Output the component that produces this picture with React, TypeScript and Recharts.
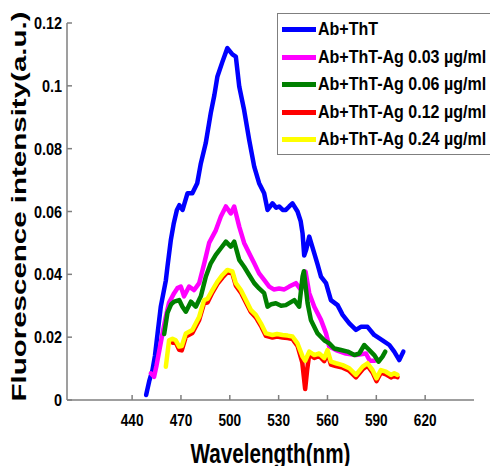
import React from 'react';
import { LineChart, Line, XAxis, YAxis, Legend, Label } from 'recharts';

// [wavelength nm, intensity a.u.]
const abTht: [number, number][] = [
  [448.6, 0.0016], [450.5, 0.006], [452.5, 0.0095], [454, 0.014], [455.6, 0.021],
  [457.6, 0.0297], [460.7, 0.038], [461.7, 0.0424], [463.8, 0.051], [465.5, 0.056], [467.5, 0.0605],
  [469, 0.062], [471, 0.0605], [474, 0.0658], [477, 0.0658], [480, 0.069],
  [482.2, 0.0753], [485.2, 0.0817], [488.3, 0.0913], [490.5, 0.097], [492.4, 0.103],
  [495.5, 0.1077], [498.5, 0.112], [501.6, 0.11], [503.7, 0.1093], [505.8, 0.0998],
  [508.8, 0.0923], [511.9, 0.0828], [515, 0.0743], [518, 0.069], [521.1, 0.0658],
  [523.2, 0.0605], [526.2, 0.0626], [528.5, 0.0612], [530.3, 0.0616], [532.5, 0.0605],
  [534.4, 0.0605], [536.5, 0.0616], [538.5, 0.0626], [541.6, 0.06], [543.5, 0.057],
  [544.7, 0.053], [545.7, 0.046], [547, 0.048], [548.8, 0.052], [551.9, 0.0467],
  [554, 0.043], [556, 0.0393], [559.1, 0.0372], [562.1, 0.0318], [566.2, 0.0302],
  [569.3, 0.0271], [573.4, 0.0244], [577.5, 0.0223], [580.5, 0.0233], [584.6, 0.0233],
  [588.7, 0.0207], [593.8, 0.019], [598, 0.0175], [601, 0.0154], [604.1, 0.0127],
  [606.6, 0.0154],
];

const ag003: [number, number][] = [
  [451.5, 0.0085], [453.5, 0.0074], [455, 0.011], [458.6, 0.021], [460.7, 0.0265],
  [462.7, 0.031], [465.8, 0.034], [467.8, 0.0356], [469.9, 0.0361], [471.9, 0.033], [475, 0.0361],
  [478.1, 0.035], [481.2, 0.0372], [484.3, 0.0435], [487.3, 0.05], [491.4, 0.054],
  [494.5, 0.0584], [497.6, 0.0616], [500.6, 0.0594], [502.7, 0.0616], [505.8, 0.0552],
  [508.8, 0.05], [511.9, 0.0467], [515, 0.0435], [518, 0.0403], [521.1, 0.0382],
  [524.2, 0.0361], [527, 0.0352], [530.3, 0.0355], [533.5, 0.0352], [536.5, 0.0361],
  [540.6, 0.0372], [543.7, 0.035], [545.7, 0.0403], [546.5, 0.0409], [548.8, 0.034],
  [551.9, 0.0297], [556, 0.0255], [559.1, 0.0212], [561.1, 0.017], [565.2, 0.0159],
  [571.3, 0.0148], [577.5, 0.0143], [583.6, 0.0148], [586, 0.0125], [589, 0.0125],
];

const ag006: [number, number][] = [
  [459.7, 0.021], [461.7, 0.0277], [464, 0.0305], [465.8, 0.0313], [468.9, 0.0318], [470.9, 0.0297],
  [473, 0.0281], [476.1, 0.0313], [479.1, 0.0297], [482.2, 0.033], [485.3, 0.0393],
  [488.3, 0.0435], [491.4, 0.0462], [494.5, 0.0483], [497.6, 0.0504], [500.6, 0.0488],
  [502.7, 0.0504], [505.8, 0.0446], [508.8, 0.0424], [511.9, 0.0398], [515, 0.0372],
  [518, 0.0355], [521.1, 0.034], [523.2, 0.0297], [525.5, 0.0305], [528.3, 0.0308],
  [531.5, 0.03], [534.4, 0.0302], [537, 0.031], [539.6, 0.0318], [542.6, 0.0297],
  [544.7, 0.0393], [545.5, 0.041], [547.8, 0.0308], [549.8, 0.0255], [553.9, 0.0212],
  [558, 0.019], [561.1, 0.018], [564.2, 0.0164], [568.3, 0.0159], [572.4, 0.0154],
  [576.5, 0.0143], [579.5, 0.0148], [582.6, 0.0175], [585.7, 0.0159], [588.7, 0.0143],
  [591.4, 0.0122], [593.8, 0.0138], [595.5, 0.0154],
];

const ag012: [number, number][] = [
  [465, 0.0182], [466.8, 0.0183], [468.9, 0.016], [470.5, 0.0158], [473, 0.0202],
  [477, 0.0213], [481.2, 0.0255], [484.2, 0.0308], [486.3, 0.031],
  [489.3, 0.0342], [492.4, 0.037], [495.5, 0.039], [498.5, 0.0407], [501.6, 0.0402],
  [503.7, 0.0364], [506.8, 0.0342], [509.9, 0.031], [512.9, 0.028], [516, 0.0263],
  [519.1, 0.0236], [522.2, 0.0204], [526.2, 0.0199], [529, 0.0202], [532.4, 0.0199],
  [535.5, 0.0197], [538.5, 0.0194], [541.6, 0.0172], [544.5, 0.012], [546.3, 0.0035],
  [547.6, 0.01], [548.8, 0.0146], [551.9, 0.0134], [554.9, 0.014], [558, 0.0124],
  [560, 0.015], [562.1, 0.0113], [565.2, 0.0108], [569.3, 0.0103], [573.4, 0.0093],
  [577.5, 0.0072], [581.6, 0.0098], [584.6, 0.0109], [587.7, 0.0087], [590.1, 0.006],
  [592.8, 0.0087], [595.9, 0.0082], [599, 0.0072], [601, 0.0077], [603, 0.0073],
];

const ag024: [number, number][] = [
  [460.7, 0.0106], [462.7, 0.019], [464.8, 0.0195], [466.8, 0.019], [468.9, 0.017],
  [470.5, 0.0172], [473, 0.0212], [477, 0.0223], [481.2, 0.0265], [484.2, 0.0318],
  [486.3, 0.0322], [489.3, 0.035], [492.4, 0.0377], [495.5, 0.0398], [498.5, 0.0414],
  [501.6, 0.0409], [503.7, 0.0372], [506.8, 0.035], [509.9, 0.0318], [512.9, 0.0287],
  [516, 0.0271], [519.1, 0.0244], [522.2, 0.0212], [526.2, 0.0207], [529, 0.021],
  [532.4, 0.0207], [535.5, 0.0205], [538.5, 0.0202], [541.6, 0.018], [544.7, 0.0138],
  [546.3, 0.0125], [548.8, 0.0154], [551.9, 0.0143], [554.9, 0.0148], [558, 0.0133],
  [560, 0.0159], [562.1, 0.0122], [565.2, 0.0117], [569.3, 0.0111], [573.4, 0.0101],
  [577.5, 0.008], [581.6, 0.0106], [584.6, 0.0117], [587.7, 0.0095], [590.1, 0.0069],
  [592.8, 0.0095], [595.9, 0.009], [599, 0.008], [601, 0.0085], [603, 0.008],
];

const xTicks = [440, 470, 500, 530, 560, 590, 620];
const yTicks = [0, 0.02, 0.04, 0.06, 0.08, 0.1, 0.12];

const series = [
  { name: 'Ab+ThT', color: '#0000ff', points: abTht },
  { name: 'Ab+ThT-Ag 0.03 µg/ml', color: '#ff00ff', points: ag003 },
  { name: 'Ab+ThT-Ag 0.06 µg/ml', color: '#008000', points: ag006 },
  { name: 'Ab+ThT-Ag 0.12 µg/ml', color: '#ff0000', points: ag012 },
  { name: 'Ab+ThT-Ag 0.24 µg/ml', color: '#ffff00', points: ag024 },
];

const sans = "'Liberation Sans', Arial, sans-serif";
const axisGray = '#7f7f7f';

// tick text squeezed horizontally, like the condensed font of the original
const SqueezedTick = (props: any) => {
  const { x, y, payload, textAnchor, fontSize, vertical } = props;
  return (
    <g transform={`translate(${x},${y})`}>
      <text
        transform="scale(0.85,1)"
        textAnchor={textAnchor}
        dy={vertical ? '0.36em' : '0.71em'}
        fontSize={fontSize}
        fontWeight="bold"
        fontFamily={sans}
        fill="#000"
      >
        {payload.value}
      </text>
    </g>
  );
};

const LegendBox = (props: any) => {
  const items = props.payload || [];
  return (
    <div
      style={{
        border: `1.5px solid ${axisGray}`,
        background: '#fff',
        padding: '2px 0 0 3.5px',
        width: 230,
        fontFamily: sans,
        fontWeight: 'bold',
        fontSize: 18,
        color: '#000',
      }}
    >
      {items.map((item: any) => (
        <div key={item.value} style={{ display: 'flex', alignItems: 'center', height: 27.5 }}>
          <span style={{ width: 34, height: 5, background: item.color, marginRight: 2, flex: 'none' }} />
          <span
            style={{
              whiteSpace: 'nowrap',
              display: 'inline-block',
              transform: 'scaleX(0.89)',
              transformOrigin: 'left center',
            }}
          >
            {item.value}
          </span>
        </div>
      ))}
    </div>
  );
};

export default function App() {
  return (
    <div
      style={{
        position: 'absolute',
        left: 0,
        top: 0,
        width: 490,
        height: 466,
        overflow: 'hidden',
        background: '#fff',
      }}
    >
      <LineChart width={490} height={466} margin={{ top: 23, right: 16, bottom: 0, left: 0 }}>
        <XAxis
          dataKey="nm"
          type="number"
          domain={[400, 650]}
          ticks={xTicks}
          height={66}
          stroke={axisGray}
          strokeWidth={1.5}
          tickSize={-5}
          tickMargin={20}
          tick={<SqueezedTick fontSize={16} />}
        >
          <Label
            content={(p: any) => (
              <text
                x={p.viewBox.x + p.viewBox.width / 2}
                y={463}
                textAnchor="middle"
                fontSize={28}
                fontWeight="bold"
                fontFamily={sans}
                textLength={160}
                lengthAdjust="spacingAndGlyphs"
                fill="#000"
              >
                Wavelength(nm)
              </text>
            )}
          />
        </XAxis>
        <YAxis
          type="number"
          domain={[0, 0.12]}
          ticks={yTicks}
          width={67}
          stroke={axisGray}
          strokeWidth={1.5}
          tickSize={-5}
          tickMargin={10}
          tick={<SqueezedTick fontSize={17} vertical />}
        >
          <Label
            content={(p: any) => {
              const cy = p.viewBox.y + p.viewBox.height / 2 - 5;
              return (
                <text
                  x={26}
                  y={cy}
                  transform={`rotate(-90 26 ${cy})`}
                  textAnchor="middle"
                  fontSize={20}
                  fontWeight="bold"
                  fontFamily={sans}
                  textLength={390}
                  lengthAdjust="spacingAndGlyphs"
                  fill="#000"
                >
                  Fluorescence intensity(a.u.)
                </text>
              );
            }}
          />
        </YAxis>
        <Legend
          layout="vertical"
          align="center"
          verticalAlign="middle"
          content={<LegendBox />}
          wrapperStyle={{ top: 13, left: 277, width: 230, height: 'auto' }}
        />
        {series.map((s) => (
          <Line
            key={s.name}
            name={s.name}
            data={s.points.map(([nm, v]) => ({ nm, v }))}
            dataKey="v"
            stroke={s.color}
            strokeWidth={4.5}
            strokeLinejoin="round"
            strokeLinecap="round"
            dot={false}
            activeDot={false}
            isAnimationActive={false}
          />
        ))}
      </LineChart>
    </div>
  );
}
